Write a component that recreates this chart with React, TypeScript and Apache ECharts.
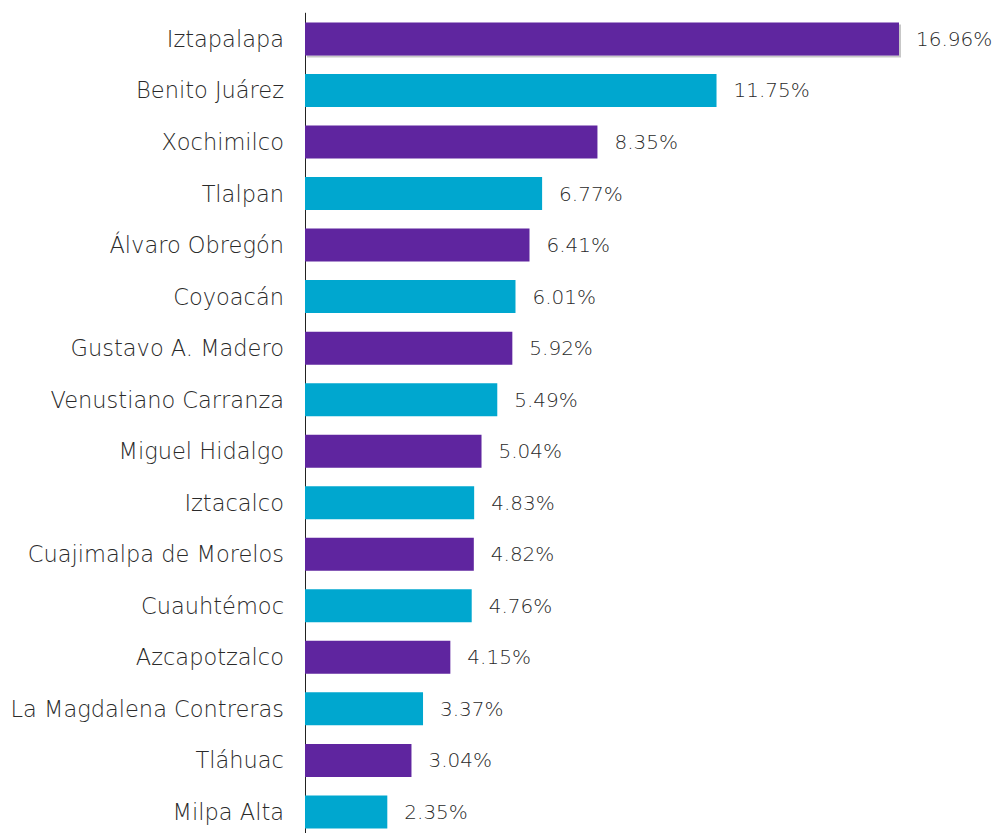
import React, { useEffect, useRef } from "react";
import * as echarts from "echarts";

const categories = [
  "Iztapalapa",
  "Benito Juárez",
  "Xochimilco",
  "Tlalpan",
  "Álvaro Obregón",
  "Coyoacán",
  "Gustavo A. Madero",
  "Venustiano Carranza",
  "Miguel Hidalgo",
  "Iztacalco",
  "Cuajimalpa de Morelos",
  "Cuauhtémoc",
  "Azcapotzalco",
  "La Magdalena Contreras",
  "Tláhuac",
  "Milpa Alta",
];
const values = [16.96, 11.75, 8.35, 6.77, 6.41, 6.01, 5.92, 5.49, 5.04, 4.83, 4.82, 4.76, 4.15, 3.37, 3.04, 2.35];
const palette = ["#5F259F", "#00A7CF"];

export default function App() {
  const ref = useRef<HTMLDivElement>(null);
  useEffect(() => {
    document.body.style.margin = "0";
    document.body.style.overflow = "hidden";
    const chart = echarts.init(ref.current!, undefined, { renderer: "svg" });
    const font = "'DejaVu Sans', sans-serif";
    chart.setOption({
      animation: false,
      grid: { left: 305, top: 13.2, bottom: 0.3, right: 91.6 },
      xAxis: {
        type: "value",
        min: 0,
        max: 17,
        show: false,
      },
      yAxis: {
        type: "category",
        inverse: true,
        data: categories,
        axisLine: { show: true, lineStyle: { color: "#222", width: 1 } },
        axisTick: { show: false },
        axisLabel: {
          margin: 21,
          fontFamily: font,
          fontWeight: 200,
          fontSize: 22.5,
          color: "#2a2a2a",
        },
      },
      series: [
        {
          type: "bar",
          barWidth: 33,
          data: values.map((v, i) => ({
            value: v,
            itemStyle: {
              color: palette[i % 2],
              ...(i === 0
                ? { shadowColor: "rgba(0,0,0,0.22)", shadowOffsetX: 2, shadowOffsetY: 2, shadowBlur: 0 }
                : {}),
            },
          })),
          label: {
            show: true,
            position: "right",
            distance: 17,
            formatter: (p: any) => p.value.toFixed(2) + "%",
            fontFamily: font,
            fontWeight: 200,
            fontSize: 20,
            color: "#2a2a2a",
          },
        },
      ],
    });
    return () => chart.dispose();
  }, []);
  return <div ref={ref} style={{ position: "absolute", left: 0, top: 0, width: 992, height: 838 }} />;
}
